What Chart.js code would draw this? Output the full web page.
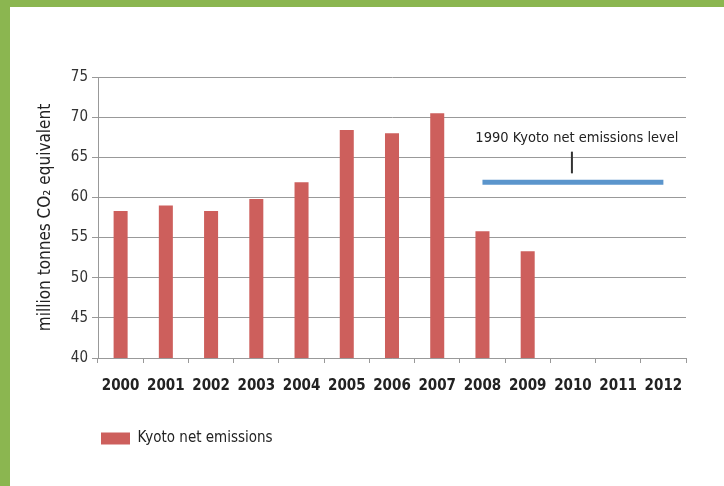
<!DOCTYPE html>
<html>
<head>
<meta charset="utf-8">
<script src="https://cdn.jsdelivr.net/npm/chart.js@4"></script>
<style>
  html, body { margin: 0; padding: 0; }
  body { width: 724px; height: 486px; background: #8bb650; position: relative; overflow: hidden; }
  #wrap { position: absolute; left: 10px; top: 7px; width: 714px; height: 479px; background: #ffffff; }
  canvas { display: block; }
</style>
</head>
<body>
<div id="wrap"><canvas id="c" width="714" height="479"></canvas></div>
<script>
const categories = ['2000','2001','2002','2003','2004','2005','2006','2007','2008','2009','2010','2011','2012'];
const kyotoNetEmissions = [58.3, 59.0, 58.3, 59.8, 61.9, 68.4, 68.0, 70.5, 55.8, 53.3, null, null, null];
const kyoto1990Level = [null, null, null, null, null, null, null, null, 61.9, 61.9, 61.9, 61.9, 61.9];
const yTicks = [40, 45, 50, 55, 60, 65, 70, 75];
const annotationText = '1990 Kyoto net emissions level';
const annotationAt = { category: '2010', value: 67.4 };
const annotationTick = { category: '2010', from: 65.7, to: 63.0 };

const FONT = "'Liberation Sans Narrow', 'DejaVu Sans Condensed', sans-serif";

const annotationPlugin = {
  id: 'kyotoAnnotation',
  afterDatasetsDraw(chart) {
    const { ctx, scales: { x, y } } = chart;
    const cx = x.getPixelForValue(categories.indexOf(annotationAt.category));
    ctx.save();
    ctx.font = "14.5px " + FONT;
    ctx.fillStyle = '#222';
    ctx.textAlign = 'center';
    ctx.textBaseline = 'middle';
    ctx.fillText(annotationText, cx + 4, y.getPixelForValue(annotationAt.value));
    const tx = x.getPixelForValue(categories.indexOf(annotationTick.category)) - 1;
    ctx.strokeStyle = '#333';
    ctx.lineWidth = 2;
    ctx.beginPath();
    ctx.moveTo(tx, y.getPixelForValue(annotationTick.from));
    ctx.lineTo(tx, y.getPixelForValue(annotationTick.to));
    ctx.stroke();
    ctx.restore();
  }
};

new Chart(document.getElementById('c'), {
  type: 'bar',
  data: {
    labels: categories,
    datasets: [
      {
        type: 'line',
        label: '1990 Kyoto net emissions level',
        data: kyoto1990Level,
        borderColor: '#5b95cc',
        borderWidth: 5,
        borderCapStyle: 'butt',
        pointRadius: 0,
        fill: false,
        spanGaps: false,
        order: 0
      },
      {
        label: 'Kyoto net emissions',
        data: kyotoNetEmissions,
        backgroundColor: '#cd5f5c',
        borderWidth: 0,
        categoryPercentage: 1,
        barPercentage: 0.31,
        order: 1
      }
    ]
  },
  options: {
    responsive: false,
    animation: false,
    devicePixelRatio: 1,
    layout: { padding: { left: 25, right: 38, top: 70, bottom: 30 } },
    plugins: {
      tooltip: { enabled: false },
      legend: {
        position: 'bottom',
        align: 'start',
        fullSize: false,
        labels: {
          filter: (item) => item.text === 'Kyoto net emissions',
          boxWidth: 29,
          boxHeight: 12,
          padding: 3,
          color: '#222',
          font: { family: FONT, size: 15 }
        }
      }
    },
    scales: {
      x: {
        offset: true,
        grid: {
          offset: true,
          drawOnChartArea: false,
          drawTicks: true,
          tickLength: 5,
          color: '#999'
        },
        border: { display: true, color: '#999', width: 1 },
        ticks: {
          color: '#222',
          padding: 14,
          font: { family: FONT, size: 15, weight: 'bold' }
        },
        afterFit(scale) { scale.height = 70; }
      },
      y: {
        min: 40,
        max: 75,
        afterBuildTicks(scale) { scale.ticks = yTicks.map(v => ({ value: v })); },
        grid: {
          color: '#999',
          lineWidth: 1,
          drawTicks: true,
          tickLength: 6
        },
        border: { display: true, color: '#999', width: 1 },
        ticks: {
          color: '#333',
          padding: 4,
          font: { family: FONT, size: 15 }
        },
        title: {
          display: true,
          text: 'million tonnes CO\u2082 equivalent',
          color: '#222',
          padding: 0,
          font: { family: FONT, size: 17 }
        },
        afterFit(scale) { scale.width = 63; }
      }
    }
  },
  plugins: [annotationPlugin]
});
</script>
</body>
</html>
